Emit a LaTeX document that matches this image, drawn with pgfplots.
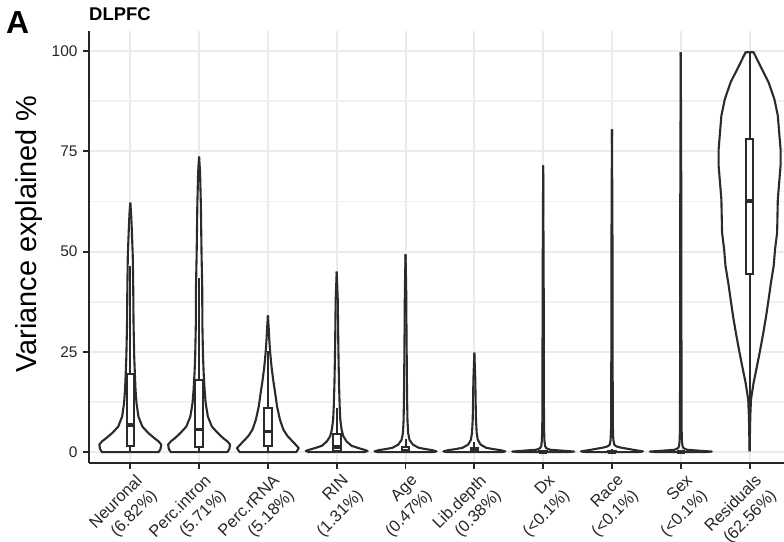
\documentclass[border=0pt]{standalone}
\usepackage{fontspec}
\setmainfont{Liberation Sans}
\usepackage{pgfplots}
\usepackage{pgfplotstable}
\pgfplotsset{compat=1.18}
\usepgfplotslibrary{statistics}
\definecolor{vcol}{HTML}{2B2B2B}
\definecolor{gridc}{HTML}{EBEBEB}
\definecolor{gridm}{HTML}{F0F0F0}

\pgfplotstableread{
y w
0 0
0 0.41
0.8 0.44
1.9 0.45
2.7 0.41
3.5 0.35
4.8 0.26
6.4 0.175
8.9 0.118
12.3 0.09
15.6 0.076
19.8 0.066
23.9 0.057
32.2 0.047
40.6 0.043
48.9 0.036
56.4 0.02
60 0.01
62.2 0
}\tNeu
\pgfplotstableread{
y w
0 0
0 0.41
0.8 0.44
1.9 0.45
2.7 0.41
3.5 0.35
4.8 0.27
6.4 0.185
8.9 0.127
12.3 0.095
15.6 0.08
19.8 0.066
23.9 0.057
32.2 0.047
40.6 0.046
48.9 0.036
55 0.031
61.4 0.026
69.8 0.014
73.7 0
}\tInt
\pgfplotstableread{
y w
0 0
0 0.41
1.0 0.45
2.3 0.38
4.0 0.285
5.6 0.225
8.1 0.175
11.4 0.133
14.8 0.105
18.1 0.076
21.4 0.052
24.8 0.033
28.1 0.02
31.4 0.01
34.1 0
}\tRrna
\pgfplotstableread{
y w
0 0
0 0.40
0.3 0.45
0.6 0.40
1.0 0.32
1.6 0.215
2.7 0.142
4.0 0.095
5.6 0.071
8.1 0.052
11.4 0.043
17.2 0.033
25.6 0.024
38 0.015
45 0
}\tRin
\pgfplotstableread{
y w
0 0
0 0.40
0.2 0.45
0.5 0.39
0.8 0.28
1.1 0.19
1.9 0.105
3.1 0.057
4.8 0.038
8 0.028
13 0.023
18 0.02
30 0.014
40 0.01
49.3 0
}\tAge
\pgfplotstableread{
y w
0 0
0 0.40
0.2 0.45
0.5 0.38
0.8 0.26
1.1 0.17
1.9 0.09
3.1 0.05
4.8 0.034
8 0.024
13 0.018
18 0.014
24.8 0
}\tLib
\pgfplotstableread{
y w
0 0
0 0.35
0.15 0.45
0.35 0.30
0.6 0.10
1.0 0.045
1.5 0.028
3 0.018
6 0.013
15 0.01
40 0.008
71.5 0
}\tDx
\pgfplotstableread{
y w
0 0
0 0.38
0.2 0.45
0.5 0.34
0.8 0.24
1.1 0.14
1.4 0.07
1.8 0.035
3 0.02
6 0.013
20 0.01
50 0.008
80.5 0
}\tRace
\pgfplotstableread{
y w
0 0
0 0.35
0.15 0.45
0.35 0.28
0.6 0.09
1.0 0.04
1.5 0.025
3 0.016
6 0.012
20 0.01
60 0.008
99.7 0
}\tSex
\pgfplotstableread{
y w
0.2 0
8.9 0.01
13.1 0.02
17.3 0.058
21.4 0.107
25.6 0.155
29.8 0.2
33.9 0.24
38.1 0.276
42.2 0.31
46.4 0.35
50.6 0.37
54.7 0.40
63.0 0.41
67.2 0.43
71.4 0.45
75.5 0.45
79.7 0.43
83.9 0.41
88.0 0.36
92.2 0.276
96.3 0.155
99.7 0.058
99.7 0
}\tRes

\newcommand\violin[2]{%
  \addplot[draw=none, fill=white, forget plot] table[x expr=#1+\thisrow{w}, y=y] {#2} -- cycle;
  \addplot[draw=none, fill=white, forget plot] table[x expr=#1-\thisrow{w}, y=y] {#2} -- cycle;
  \addplot[vio, forget plot] table[x expr=#1+\thisrow{w}, y=y] {#2};
  \addplot[vio, forget plot] table[x expr=#1-\thisrow{w}, y=y] {#2};
}
\newcommand\bx[6]{%
  \addplot[draw=vcol, fill=white, line width=2bp, forget plot,
    boxplot/draw direction=y,
    boxplot prepared={draw position=#1, lower whisker=#2, lower quartile=#3,
      median=#4, upper quartile=#5, upper whisker=#6,
      box extend=0.11, whisker extend=0,
      every median/.style={line width=3.5bp}}] coordinates {};
}

\begin{document}
\begin{tikzpicture}
\useasboundingbox (0,0) rectangle (784bp,542bp);
\begin{axis}[
  at={(89bp,79bp)}, anchor=south west,
  scale only axis, width=695bp, height=432bp,
  xmin=0.4, xmax=10.5, ymin=-2.7, ymax=105,
  axis lines=left,
  axis line style={-, draw=black!85, line width=2bp},
  no marks,
  vio/.style={draw=vcol, line width=2.1bp, line join=round},
  xtick={1,...,10},
  xticklabels={{Neuronal\\(6.82\%)},{Perc.intron\\(5.71\%)},{Perc.rRNA\\(5.18\%)},{RIN\\(1.31\%)},{Age\\(0.47\%)},{Lib.depth\\(0.38\%)},{Dx\\(<0.1\%)},{Race\\(<0.1\%)},{Sex\\(<0.1\%)},{Residuals\\(62.56\%)}},
  ytick={0,25,50,75,100},
  minor ytick={12.5,37.5,62.5,87.5},
  xmajorgrids, ymajorgrids, yminorgrids,
  major grid style={draw=gridc, line width=2bp},
  minor grid style={draw=gridm, line width=1.6bp},
  tick align=outside,
  major tick length=6bp, minor tick length=0pt,
  tick style={draw=black!85, line width=1.8bp},
  /pgf/number format/assume math mode=true,
  yticklabel style={font=\fontsize{15.5}{17}\selectfont, text=black!85, xshift=-2bp},
  xticklabel style={font=\fontsize{16.5}{21}\selectfont, text=black!85, rotate=45, anchor=north east, align=right, inner sep=1bp, yshift=-5bp, xshift=1bp},
  ylabel={Variance explained \%},
  ylabel style={at={(axis description cs:-0.0863,0.53)}, anchor=center, font=\fontsize{29}{32}\selectfont},
  title={DLPFC},
  title style={at={(axis description cs:0,1)}, anchor=base west, yshift=4.3bp, inner sep=0pt, font=\bfseries\fontsize{18.5}{20}\selectfont},
]
\violin{1}{\tNeu}
\violin{2}{\tInt}
\violin{3}{\tRrna}
\violin{4}{\tRin}
\violin{5}{\tAge}
\violin{6}{\tLib}
\violin{7}{\tDx}
\violin{8}{\tRace}
\violin{9}{\tSex}
\violin{10}{\tRes}
\bx{1}{0}{1.45}{6.82}{19.4}{46.3}
\bx{2}{0}{1.3}{5.71}{18.1}{43.3}
\bx{3}{0}{1.45}{5.18}{10.9}{25.1}
\bx{4}{0}{0.4}{1.31}{4.6}{10.9}
\bx{5}{0}{0.1}{0.47}{1.4}{3.4}
\bx{6}{0}{0.1}{0.38}{1.1}{2.6}
\bx{7}{0}{0.01}{0.05}{0.2}{0.5}
\bx{8}{0}{0.01}{0.06}{0.3}{0.75}
\bx{9}{0}{0.01}{0.03}{0.15}{0.4}
\bx{10}{0.2}{44.3}{62.56}{78.0}{99.7}
\end{axis}
\node[anchor=base west, inner sep=0pt, font=\bfseries\fontsize{32}{32}\selectfont] at (6bp,508.7bp) {A};
\end{tikzpicture}
\end{document}
